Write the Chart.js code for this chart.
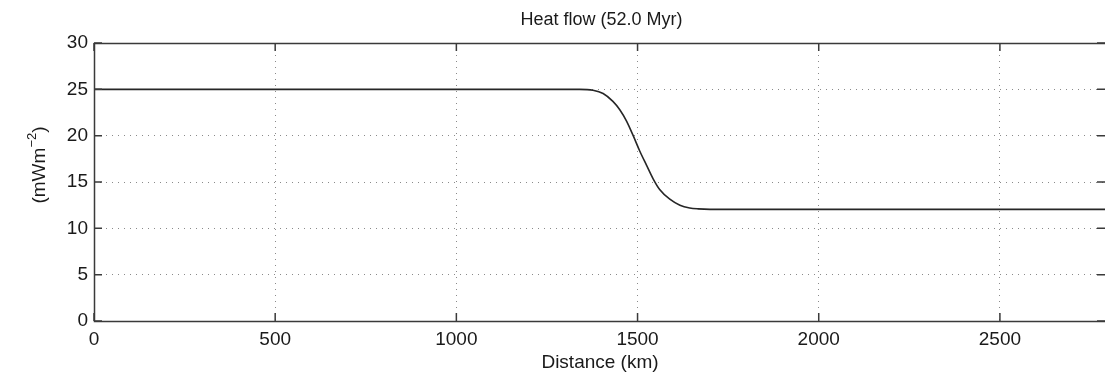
<!DOCTYPE html>
<html lang="en">
<head>
    <meta charset="UTF-8">
    <title>Heat flow</title>
    <style>
        body {
            margin: 0;
            padding: 0;
            background-color: #ffffff;
        }

        .chart-box {
            width: 1105px;
            height: 378px;
        }
    </style>
    <script src="https://cdn.jsdelivr.net/npm/chart.js"></script>
</head>
<body>
    <div class="chart-box">
        <canvas id="heatChart"></canvas>
    </div>

    <script>
        // Datos
        var distance = [0, 500, 1000, 1300, 1340, 1377, 1405, 1432, 1451, 1470, 1488, 1506, 1525, 1543, 1561, 1589, 1617, 1644, 1667, 1700, 2000, 2500, 2790];
        var heatFlow = [25, 25, 25, 25, 25, 24.9, 24.55, 23.7, 22.8, 21.55, 20.0, 18.35, 16.8, 15.35, 14.2, 13.15, 12.5, 12.2, 12.1, 12.05, 12.05, 12.05, 12.05];
        var xTicks = [0, 500, 1000, 1500, 2000, 2500];
        var yTicks = [0, 5, 10, 15, 20, 25, 30];

        var FONT = '"Liberation Sans", Arial, sans-serif';

        // Marco, marcas hacia dentro y textos al estilo MATLAB
        var matlabAxes = {
            id: 'matlabAxes',
            afterDraw: function(chart) {
                var ctx = chart.ctx;
                var a = chart.chartArea;
                var xs = chart.scales.x;
                var ys = chart.scales.y;
                var tick = 8;

                ctx.save();
                ctx.strokeStyle = '#3a3a3a';
                ctx.lineWidth = 1.5;
                // el borde derecho queda fuera de la imagen
                ctx.beginPath();
                ctx.moveTo(1105, a.top + 0.5);
                ctx.lineTo(a.left + 0.5, a.top + 0.5);
                ctx.lineTo(a.left + 0.5, a.bottom + 0.5);
                ctx.lineTo(1105, a.bottom + 0.5);
                ctx.stroke();

                ctx.beginPath();
                xTicks.forEach(function(v) {
                    var px = xs.getPixelForValue(v);
                    ctx.moveTo(px, a.bottom);
                    ctx.lineTo(px, a.bottom - tick);
                    ctx.moveTo(px, a.top);
                    ctx.lineTo(px, a.top + tick);
                });
                yTicks.forEach(function(v) {
                    var py = ys.getPixelForValue(v);
                    ctx.moveTo(a.left, py);
                    ctx.lineTo(a.left + tick, py);
                    ctx.moveTo(a.right, py);
                    ctx.lineTo(a.right - tick, py);
                });
                ctx.stroke();

                ctx.fillStyle = '#1a1a1a';
                ctx.font = '19px ' + FONT;
                ctx.textAlign = 'center';
                ctx.textBaseline = 'middle';
                xTicks.forEach(function(v) {
                    ctx.fillText(String(v), xs.getPixelForValue(v), 340);
                });
                ctx.textAlign = 'right';
                yTicks.forEach(function(v) {
                    ctx.fillText(String(v), 88, ys.getPixelForValue(v));
                });

                // Titulos
                ctx.textAlign = 'center';
                ctx.font = '18px ' + FONT;
                ctx.fillText('Heat flow (52.0 Myr)', (a.left + 1105) / 2 + 2, 20);
                ctx.font = '19px ' + FONT;
                ctx.fillText('Distance (km)', 600, 363);

                // Etiqueta Y con exponente
                ctx.translate(40, 165);
                ctx.rotate(-Math.PI / 2);
                ctx.font = '19px ' + FONT;
                var w1 = ctx.measureText('(mWm').width;
                ctx.font = '13px ' + FONT;
                var w2 = ctx.measureText('\u22122').width;
                ctx.font = '19px ' + FONT;
                var w3 = ctx.measureText(')').width;
                var x0 = -(w1 + w2 + w3) / 2;
                ctx.textAlign = 'left';
                ctx.fillText('(mWm', x0, 0);
                ctx.font = '13px ' + FONT;
                ctx.fillText('\u22122', x0 + w1, -8);
                ctx.font = '19px ' + FONT;
                ctx.fillText(')', x0 + w1 + w2, 0);
                ctx.restore();
            }
        };

        window.onload = function() {
            var ctx = document.getElementById('heatChart').getContext('2d');
            var points = distance.map(function(d, i) {
                return { x: d, y: heatFlow[i] };
            });

            var heatChart = new Chart(ctx, {
                type: 'line',
                data: {
                    datasets: [{
                        label: 'Heat flow',
                        data: points,
                        borderColor: '#262626',
                        borderWidth: 1.6,
                        pointRadius: 0,
                        cubicInterpolationMode: 'monotone',
                        fill: false
                    }]
                },
                options: {
                    responsive: true,
                    maintainAspectRatio: false,
                    animation: false,
                    layout: {
                        padding: { left: 94, right: 0, top: 43, bottom: 57 }
                    },
                    plugins: {
                        legend: { display: false },
                        tooltip: { enabled: false }
                    },
                    scales: {
                        x: {
                            type: 'linear',
                            min: 0,
                            max: 2790,
                            afterBuildTicks: function(s) {
                                s.ticks = xTicks.map(function(v) { return { value: v }; });
                            },
                            ticks: { display: false },
                            grid: { color: '#8a8a8a', lineWidth: 1, drawTicks: false },
                            border: { display: false, dash: [1, 5] }
                        },
                        y: {
                            min: 0,
                            max: 30,
                            afterBuildTicks: function(s) {
                                s.ticks = yTicks.map(function(v) { return { value: v }; });
                            },
                            ticks: { display: false },
                            grid: { color: '#8a8a8a', lineWidth: 1, drawTicks: false },
                            border: { display: false, dash: [1, 5] }
                        }
                    }
                },
                plugins: [matlabAxes]
            });
        };
    </script>
</body>
</html>
